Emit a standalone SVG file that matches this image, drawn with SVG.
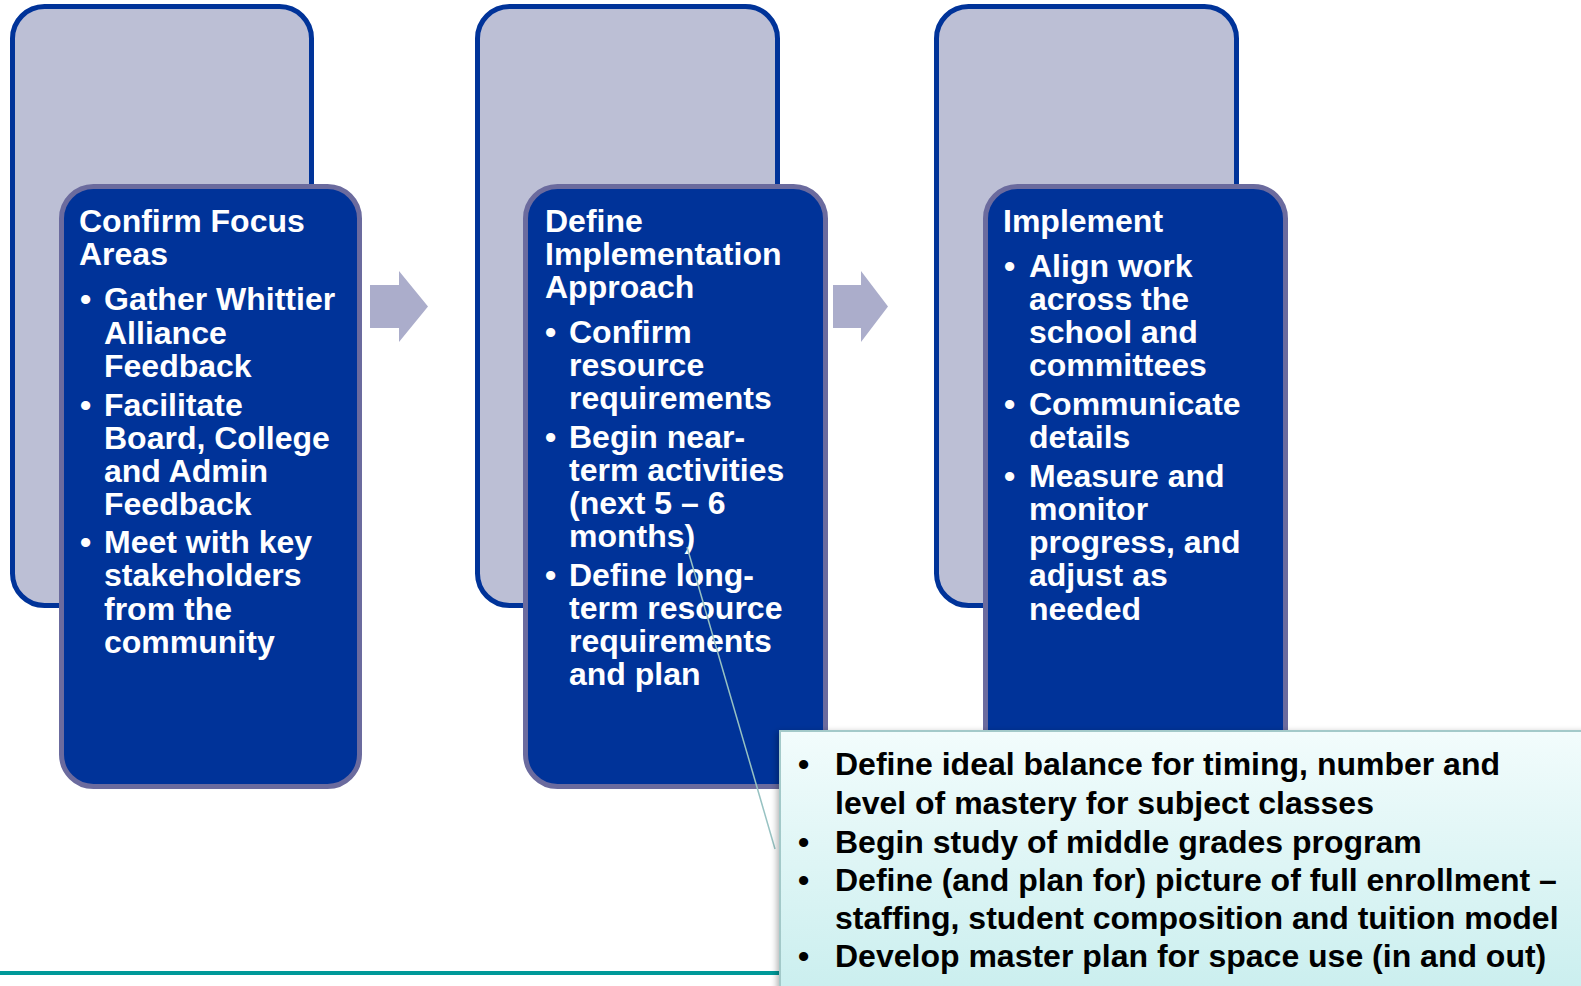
<svg xmlns="http://www.w3.org/2000/svg" width="1581" height="986" viewBox="0 0 1581 986">
  <defs>
    <style>
      .back{fill:#bcbfd5;stroke:#003399;stroke-width:5}
      .front{fill:#003399;stroke:#6b6b9e;stroke-width:5}
      .arrow{fill:#abadcb}
      .t{font-family:"Liberation Sans",Arial,sans-serif;font-weight:bold;font-size:32px;fill:#ffffff}
      .c{font-family:"Liberation Sans",Arial,sans-serif;font-weight:bold;font-size:32px;fill:#000000}
      .pointer{stroke:#97c2c2;stroke-width:1.5;fill:none}
    </style>
    <linearGradient id="calloutFill" x1="0" y1="0" x2="0" y2="1">
      <stop offset="0" stop-color="#f2fcfc"/>
      <stop offset="1" stop-color="#c9eeee"/>
    </linearGradient>
    <filter id="softShadow" x="-5%" y="-10%" width="110%" height="120%">
      <feDropShadow dx="-2" dy="2" stdDeviation="3" flood-color="#000" flood-opacity="0.3"/>
    </filter>
  </defs>

  <rect width="1581" height="986" fill="#ffffff"/>

  <!-- bottom rule -->
  <rect x="0" y="971" width="790" height="4" fill="#009999"/>

  <!-- Stage 1 -->
  <g id="stage-confirm">
    <rect class="back" x="12.5" y="6.5" width="299" height="599" rx="32"/>
    <rect class="front" x="61.5" y="186.5" width="298" height="600" rx="32"/>
    <text class="t" x="79" y="232">Confirm Focus</text>
    <text class="t" x="79" y="265">Areas</text>
    <text class="t" x="80" y="310">•</text>
    <text class="t" x="104" y="310">Gather Whittier</text>
    <text class="t" x="104" y="344">Alliance</text>
    <text class="t" x="104" y="377">Feedback</text>
    <text class="t" x="80" y="416">•</text>
    <text class="t" x="104" y="416">Facilitate</text>
    <text class="t" x="104" y="449">Board, College</text>
    <text class="t" x="104" y="482">and Admin</text>
    <text class="t" x="104" y="515">Feedback</text>
    <text class="t" x="80" y="553">•</text>
    <text class="t" x="104" y="553">Meet with key</text>
    <text class="t" x="104" y="586">stakeholders</text>
    <text class="t" x="104" y="620">from the</text>
    <text class="t" x="104" y="653">community</text>
  </g>

  <!-- Stage 2 -->
  <g id="stage-define">
    <rect class="back" x="477.5" y="6.5" width="300" height="599" rx="32"/>
    <rect class="front" x="525.5" y="186.5" width="300" height="600" rx="32"/>
    <text class="t" x="545" y="232">Define</text>
    <text class="t" x="545" y="265">Implementation</text>
    <text class="t" x="545" y="298">Approach</text>
    <text class="t" x="545" y="343">•</text>
    <text class="t" x="569" y="343">Confirm</text>
    <text class="t" x="569" y="376">resource</text>
    <text class="t" x="569" y="409">requirements</text>
    <text class="t" x="545" y="448">•</text>
    <text class="t" x="569" y="448">Begin near-</text>
    <text class="t" x="569" y="481">term activities</text>
    <text class="t" x="569" y="514">(next 5 – 6</text>
    <text class="t" x="569" y="547">months)</text>
    <text class="t" x="545" y="586">•</text>
    <text class="t" x="569" y="586">Define long-</text>
    <text class="t" x="569" y="619">term resource</text>
    <text class="t" x="569" y="652">requirements</text>
    <text class="t" x="569" y="685">and plan</text>
  </g>

  <!-- Stage 3 -->
  <g id="stage-implement">
    <rect class="back" x="936.5" y="6.5" width="300" height="599" rx="32"/>
    <rect class="front" x="985.5" y="186.5" width="300" height="600" rx="32"/>
    <text class="t" x="1003" y="232">Implement</text>
    <text class="t" x="1004" y="277">•</text>
    <text class="t" x="1029" y="277">Align work</text>
    <text class="t" x="1029" y="310">across the</text>
    <text class="t" x="1029" y="343">school and</text>
    <text class="t" x="1029" y="376">committees</text>
    <text class="t" x="1004" y="415">•</text>
    <text class="t" x="1029" y="415">Communicate</text>
    <text class="t" x="1029" y="448">details</text>
    <text class="t" x="1004" y="487">•</text>
    <text class="t" x="1029" y="487">Measure and</text>
    <text class="t" x="1029" y="520">monitor</text>
    <text class="t" x="1029" y="553">progress, and</text>
    <text class="t" x="1029" y="586">adjust as</text>
    <text class="t" x="1029" y="620">needed</text>
  </g>

  <!-- connectors: step arrows and callout pointer -->
  <g id="connectors">
    <polygon class="arrow" points="370,285 399,285 399,271 428,306.5 399,342 399,328 370,328"/>
    <polygon class="arrow" points="833,285 861,285 861,271 888,306.5 861,342 861,328 833,328"/>
    <line class="pointer" x1="687" y1="547" x2="775" y2="849"/>
  </g>

  <!-- detail callout -->
  <g id="callout-details">
    <rect x="780" y="731" width="820" height="270" fill="url(#calloutFill)" stroke="#a3c9c9" stroke-width="2" filter="url(#softShadow)"/>
    <text class="c" x="798" y="775">•</text>
    <text class="c" x="835" y="775">Define ideal balance for timing, number and</text>
    <text class="c" x="835" y="814">level of mastery for subject classes</text>
    <text class="c" x="798" y="853">•</text>
    <text class="c" x="835" y="853">Begin study of middle grades program</text>
    <text class="c" x="798" y="891">•</text>
    <text class="c" x="835" y="891">Define (and plan for) picture of full enrollment –</text>
    <text class="c" x="835" y="929">staffing, student composition and tuition model</text>
    <text class="c" x="798" y="967">•</text>
    <text class="c" x="835" y="967">Develop master plan for space use (in and out)</text>
  </g>
</svg>
